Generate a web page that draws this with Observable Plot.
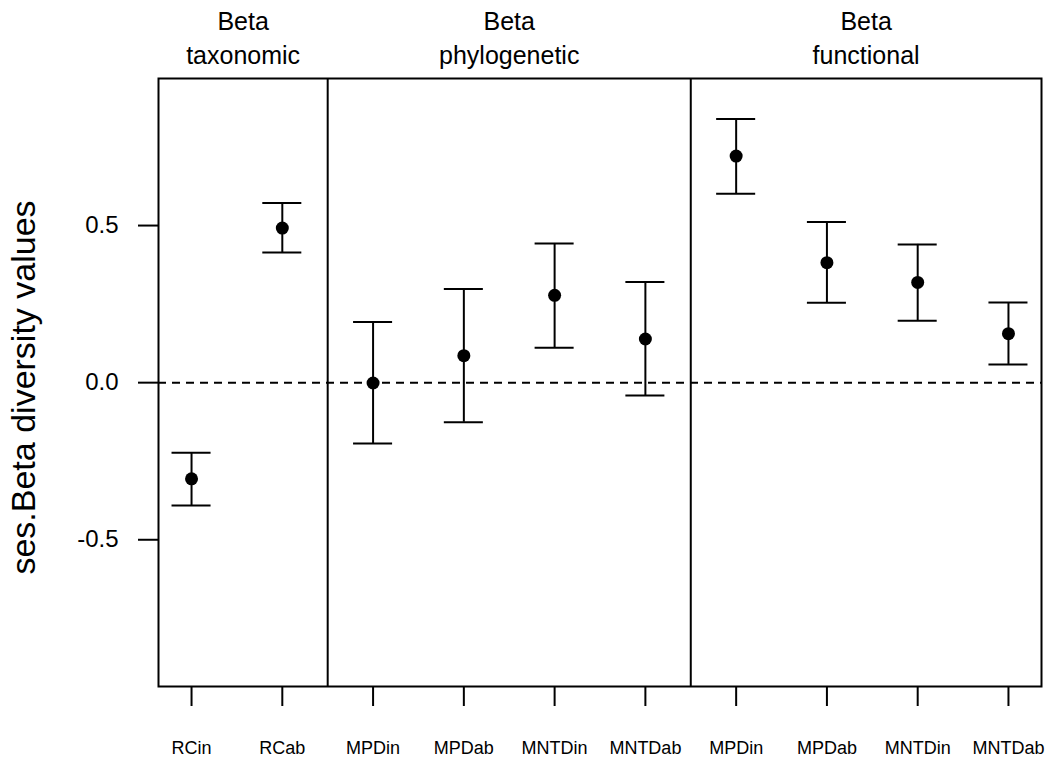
<!DOCTYPE html>
<html>
<head>
<meta charset="utf-8">
<script src="https://cdn.jsdelivr.net/npm/d3@7"></script>
<script src="https://cdn.jsdelivr.net/npm/@observablehq/plot@0.6"></script>
<style>
  html, body { margin: 0; padding: 0; background: white; }
</style>
</head>
<body>
<div id="chart"></div>
<script>
// Data
const labels = ["RCin", "RCab", "MPDin", "MPDab", "MNTDin", "MNTDab", "MPDin", "MPDab", "MNTDin", "MNTDab"];
const means  = [-0.306, 0.492, -0.001, 0.086, 0.278, 0.139, 0.721, 0.382, 0.319, 0.156];
const lower  = [-0.391, 0.414, -0.194, -0.126, 0.111, -0.041, 0.601, 0.254, 0.197, 0.058];
const upper  = [-0.223, 0.572, 0.193, 0.298, 0.443, 0.320, 0.839, 0.511, 0.440, 0.255];
const panelTitleTop = ["Beta", "Beta", "Beta"];
const panelTitleBottom = ["taxonomic", "phylogenetic", "functional"];
const panelBreaks = [2.5, 6.5];
const yTicks = [-0.5, 0, 0.5];

const rows = labels.map((l, i) => ({pos: i + 1, label: l, mean: means[i], lo: lower[i], hi: upper[i]}));
const xDomain = [0.636, 10.364];
const edges = [xDomain[0], ...panelBreaks, xDomain[1]];
const panels = panelTitleTop.map((t, i) => ({top: t, bottom: panelTitleBottom[i], center: (edges[i] + edges[i + 1]) / 2}));
const capHalf = 0.215;

const chart = Plot.plot({
  width: 1051,
  height: 758,
  marginLeft: 158,
  marginRight: 10,
  marginTop: 78,
  marginBottom: 72,
  style: {fontFamily: "'Liberation Sans', Arial, sans-serif", background: "white", color: "black"},
  x: {domain: xDomain},
  y: {domain: [-0.967, 0.968]},
  marks: [
    Plot.ruleY([0], {stroke: "black", strokeWidth: 2, strokeDasharray: "8,6"}),
    Plot.ruleX(panelBreaks, {stroke: "black", strokeWidth: 2}),
    Plot.ruleX(rows, {x: "pos", y1: "lo", y2: "hi", stroke: "black", strokeWidth: 2}),
    Plot.ruleY(rows, {y: "lo", x1: d => d.pos - capHalf, x2: d => d.pos + capHalf, stroke: "black", strokeWidth: 2}),
    Plot.ruleY(rows, {y: "hi", x1: d => d.pos - capHalf, x2: d => d.pos + capHalf, stroke: "black", strokeWidth: 2}),
    Plot.dot(rows, {x: "pos", y: "mean", r: 6.5, fill: "black", stroke: "none"}),
    Plot.frame({stroke: "black", strokeWidth: 2}),
    Plot.axisX({
      ticks: rows.map(d => d.pos),
      tickFormat: p => labels[p - 1],
      tickSize: 20, tickPadding: 35, fontSize: 18, strokeWidth: 2, label: null
    }),
    Plot.axisY({
      ticks: yTicks,
      tickFormat: v => v.toFixed(1),
      tickSize: 20, tickPadding: 20, fontSize: 24, strokeWidth: 2, label: null
    }),
    Plot.text(panels, {x: "center", text: "top", frameAnchor: "top", dy: -57, lineAnchor: "middle", fontSize: 25, fill: "black"}),
    Plot.text(panels, {x: "center", text: "bottom", frameAnchor: "top", dy: -23, lineAnchor: "middle", fontSize: 25, fill: "black"}),
    Plot.text(["ses.Beta diversity values"], {frameAnchor: "left", rotate: -90, dx: -134, dy: 5, textAnchor: "middle", lineAnchor: "middle", fontSize: 34, fill: "black"})
  ]
});
document.getElementById("chart").appendChild(chart);
</script>
</body>
</html>
